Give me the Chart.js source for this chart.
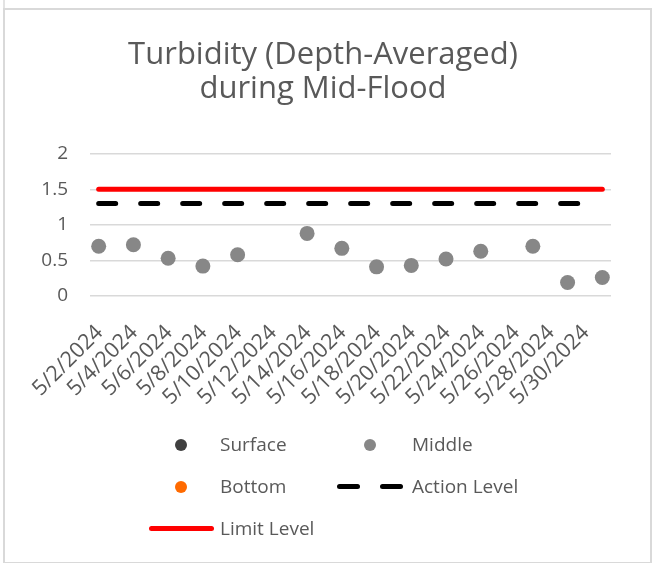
<!DOCTYPE html>
<html>
<head>
<meta charset="utf-8">
<script src="https://cdn.jsdelivr.net/npm/chart.js@4.4.0/dist/chart.umd.min.js"></script>
<style>
  html, body { margin: 0; padding: 0; background: #ffffff; }
  #wrap { position: relative; width: 653px; height: 563px; overflow: hidden; font-family: 'Open Sans', sans-serif; }
  #frame { position: absolute; left: 3px; top: 8px; width: 649px; height: 556px; border: 2px solid #d9d9d9; box-sizing: border-box; }
  #edge { position: absolute; left: 3px; top: 0; width: 2px; height: 10px; background: #e3e3e3; }
  #chart { position: absolute; left: 0; top: 0; }
  .lg-text { position: absolute; font-size: 19px; line-height: 19px; color: #595959; white-space: nowrap; }
  .lg-dot { position: absolute; border-radius: 50%; }
  .lg-bar { position: absolute; border-radius: 3px; }
</style>
</head>
<body>
<div id="wrap">
  <div id="edge"></div>
  <div id="frame"></div>
  <canvas id="chart" width="653" height="563"></canvas>
  <div id="legend"></div>
</div>
<script>
// ---- data ----
const titleLines = ['Turbidity (Depth-Averaged)', 'during Mid-Flood'];
// every day on the date axis (base unit: day)
const axisDays = ['5/2/2024','5/3/2024','5/4/2024','5/5/2024','5/6/2024','5/7/2024','5/8/2024','5/9/2024','5/10/2024','5/11/2024',
  '5/12/2024','5/13/2024','5/14/2024','5/15/2024','5/16/2024','5/17/2024','5/18/2024','5/19/2024','5/20/2024','5/21/2024',
  '5/22/2024','5/23/2024','5/24/2024','5/25/2024','5/26/2024','5/27/2024','5/28/2024','5/29/2024','5/30/2024','5/31/2024'];
// labels printed under the axis (every 2 days)
const tickLabels = ['5/2/2024','5/4/2024','5/6/2024','5/8/2024','5/10/2024','5/12/2024','5/14/2024','5/16/2024',
  '5/18/2024','5/20/2024','5/22/2024','5/24/2024','5/26/2024','5/28/2024','5/30/2024'];
const yTicks = [0, 0.5, 1, 1.5, 2];
// sampling dates
const dates = ['5/2/2024','5/4/2024','5/6/2024','5/8/2024','5/10/2024','5/14/2024','5/16/2024','5/18/2024',
  '5/20/2024','5/22/2024','5/24/2024','5/27/2024','5/29/2024','5/31/2024'];
const surface = [];
const middle = [0.70, 0.72, 0.53, 0.42, 0.58, 0.88, 0.67, 0.41, 0.43, 0.52, 0.63, 0.70, 0.19, 0.26];
const bottom = [];
const actionLevel = [1.3, 1.3, 1.3, 1.3, 1.3, 1.3, 1.3, 1.3, 1.3, 1.3, 1.3, 1.3, 1.3, 1.3];
const limitLevel = [1.5, 1.5, 1.5, 1.5, 1.5, 1.5, 1.5, 1.5, 1.5, 1.5, 1.5, 1.5, 1.5, 1.5];

const pts = (vals) => vals.map((v, i) => ({ x: dates[i], y: v }));
const FONT = "'Open Sans', sans-serif";
const TXT = '#595959';

const chart = new Chart(document.getElementById('chart'), {
  type: 'line',
  data: {
    labels: axisDays,
    datasets: [
      { label: 'Surface', data: pts(surface), showLine: false, pointRadius: 6.5, pointBackgroundColor: '#404040', pointBorderWidth: 0, borderColor: '#404040', backgroundColor: '#404040' },
      { label: 'Middle', data: pts(middle), showLine: false, pointRadius: 7.5, pointHoverRadius: 7.5, pointBackgroundColor: '#878787', pointBorderWidth: 0, borderColor: '#878787', backgroundColor: '#878787' },
      { label: 'Bottom', data: pts(bottom), showLine: false, pointRadius: 6.5, pointBackgroundColor: '#ff6a00', pointBorderWidth: 0, borderColor: '#ff6a00', backgroundColor: '#ff6a00' },
      { label: 'Action Level', data: pts(actionLevel), borderColor: '#000000', backgroundColor: '#000000', borderWidth: 5, borderDash: [17, 25], borderCapStyle: 'round', pointRadius: 0, pointHoverRadius: 0, fill: false, tension: 0 },
      { label: 'Limit Level', data: pts(limitLevel), borderColor: '#ff0000', backgroundColor: '#ff0000', borderWidth: 5, borderCapStyle: 'round', pointRadius: 0, pointHoverRadius: 0, fill: false, tension: 0 }
    ]
  },
  options: {
    responsive: false,
    animation: false,
    devicePixelRatio: 1,
    events: [],
    layout: { padding: { left: 5, right: 12, top: 0, bottom: 142 } },
    plugins: {
      legend: { display: false },
      tooltip: { enabled: false },
      title: {
        display: true,
        text: titleLines,
        color: TXT,
        font: { family: FONT, size: 31, weight: 'normal', lineHeight: 1.11 },
        padding: { top: 37.5, bottom: 47.4 }
      }
    },
    scales: {
      x: {
        type: 'category',
        offset: true,
        grid: { display: false },
        border: { display: false },
        afterFit: (s) => { s.height = 125; },
        ticks: {
          autoSkip: false,
          maxRotation: 45,
          minRotation: 45,
          padding: 16,
          labelOffset: 1,
          color: TXT,
          font: { family: FONT, size: 21.5 },
          callback: function (value) {
            const lab = this.getLabelForValue(value);
            return tickLabels.includes(lab) ? lab : '';
          }
        }
      },
      y: {
        min: 0,
        max: 2,
        afterBuildTicks: (s) => { s.ticks = yTicks.map(v => ({ value: v })); },
        afterFit: (s) => { s.width = 85; },
        border: { display: false },
        grid: { color: '#d9d9d9', lineWidth: 1.5, drawTicks: false },
        ticks: {
          padding: 22,
          color: TXT,
          font: { family: FONT, size: 19 },
          callback: (v) => String(v)
        }
      },
      yRight: {
        position: 'right',
        min: 0,
        max: 2,
        afterFit: (s) => { s.width = 30; },
        border: { display: false },
        grid: { drawOnChartArea: false, drawTicks: false, display: false },
        ticks: { display: false }
      }
    }
  }
});

// ---- legend in Excel's two-column grid, built from the datasets ----
const legendPlace = { 'Surface': [0, 0], 'Middle': [1, 0], 'Bottom': [0, 1], 'Action Level': [1, 1], 'Limit Level': [0, 2] };
const colText = [220, 412];
const colSwatch = [181, 370];
const rowY = [444.5, 486.7, 528.8];
const lg = document.getElementById('legend');
chart.data.datasets.forEach((ds) => {
  const [c, r] = legendPlace[ds.label];
  const cy = rowY[r], cx = colSwatch[c];
  if (ds.showLine === false) {
    const d = document.createElement('div');
    d.className = 'lg-dot';
    const dia = 12;
    d.style.cssText = `left:${cx - dia / 2}px;top:${cy - dia / 2}px;width:${dia}px;height:${dia}px;background:${ds.pointBackgroundColor};`;
    lg.appendChild(d);
  } else if (ds.borderDash) {
    [cx - 33, cx + 10].forEach((x0) => {
      const b = document.createElement('div');
      b.className = 'lg-bar';
      b.style.cssText = `left:${x0}px;top:${cy - 2.5}px;width:23px;height:5px;background:${ds.borderColor};`;
      lg.appendChild(b);
    });
  } else {
    const b = document.createElement('div');
    b.className = 'lg-bar';
    b.style.cssText = `left:${cx - 32}px;top:${cy - 2.5}px;width:65px;height:5px;background:${ds.borderColor};`;
    lg.appendChild(b);
  }
  const t = document.createElement('div');
  t.className = 'lg-text';
  t.textContent = ds.label;
  t.style.left = colText[c] + 'px';
  t.style.top = (cy - 10) + 'px';
  lg.appendChild(t);
});
</script>
</body>
</html>
